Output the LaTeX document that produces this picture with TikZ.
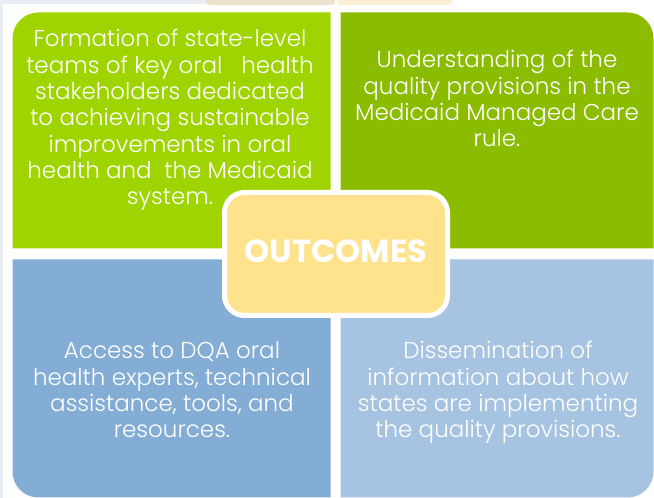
\documentclass[tikz,border=0pt]{standalone}
\usepackage{fontspec}
\setmainfont{Poppins}[UprightFont=* Light, BoldFont=* Bold]
\definecolor{bgray}{HTML}{E9EEF5}
\definecolor{qtl}{HTML}{A0D400}
\definecolor{qtr}{HTML}{8CBC00}
\definecolor{qbl}{HTML}{84ADD6}
\definecolor{qbr}{HTML}{A7C3E2}
\definecolor{cyel}{HTML}{FFE28C}
\definecolor{tanA}{HTML}{EFE2CC}
\definecolor{tanB}{HTML}{FDEFD3}
\newcommand{\qtext}[1]{\fontsize{23}{26.3}\selectfont\begin{tabular}[t]{@{}c@{}}#1\end{tabular}}
\tikzset{
  quad/.style={draw=white, line width=5pt},
  qlabel/.style={anchor=base, inner sep=0pt, text=white},
}
\begin{document}
\begin{tikzpicture}[x=1pt,y=1pt]
\useasboundingbox (0,0) rectangle (654,498);
\begin{scope}
\clip (0,0) rectangle (654,498);
\fill[white] (0,0) rectangle (654,498);
\fill[bgray] (0,0) rectangle (3,498);
\fill[bgray] (0,494) rectangle (206,498);
\fill[tanA, rounded corners=3pt] (206,493) rectangle (335,502);
\fill[tanB, rounded corners=3pt] (337,493) rectangle (452,502);
% quadrants
\path[quad, fill=qtl] (333,247) -- (10,247) -- (10,460) arc[start angle=180, end angle=90, radius=28] -- (333,488) -- cycle;
\path[quad, fill=qtr] (338,247) -- (338,488) -- (628,488) arc[start angle=90, end angle=0, radius=28] -- (656,247) -- cycle;
\path[quad, fill=qbl] (10,241) -- (333,241) -- (333,-2) -- (38,-2) arc[start angle=270, end angle=180, radius=28] -- cycle;
\path[quad, fill=qbr] (338,241) -- (656,241) -- (656,26) arc[start angle=0, end angle=-90, radius=28] -- (338,-2) -- cycle;
\end{scope}
% texts
\node[qlabel] (tl) at (170,451) {\qtext{Formation of state-level\\teams of key oral\ \ \ health\\stakeholders dedicated\\to achieving sustainable\\improvements in oral\\health and\ \ the Medicaid\\system.}};
\node[qlabel] (tr) at (497,430) {\qtext{Understanding of the\\quality provisions in the\\Medicaid Managed Care\\rule.}};
\node[qlabel] (bl) at (172,139) {\qtext{Access to DQA oral\\health experts, technical\\assistance, tools, and\\resources.}};
\node[qlabel] (br) at (498,139) {\qtext{Dissemination of\\information about how\\states are implementing\\the quality provisions.}};
% center
\node[draw=white, line width=5pt, fill=cyel, rounded corners=20pt, minimum width=223pt, minimum height=123pt, inner sep=0pt] (center) at (336,244) {};
\node[anchor=base, text=white, inner sep=0pt, font=\fontsize{32}{36}\selectfont\bfseries] (outc) at (336,235) {OUTCOMES};
\end{tikzpicture}
\end{document}
